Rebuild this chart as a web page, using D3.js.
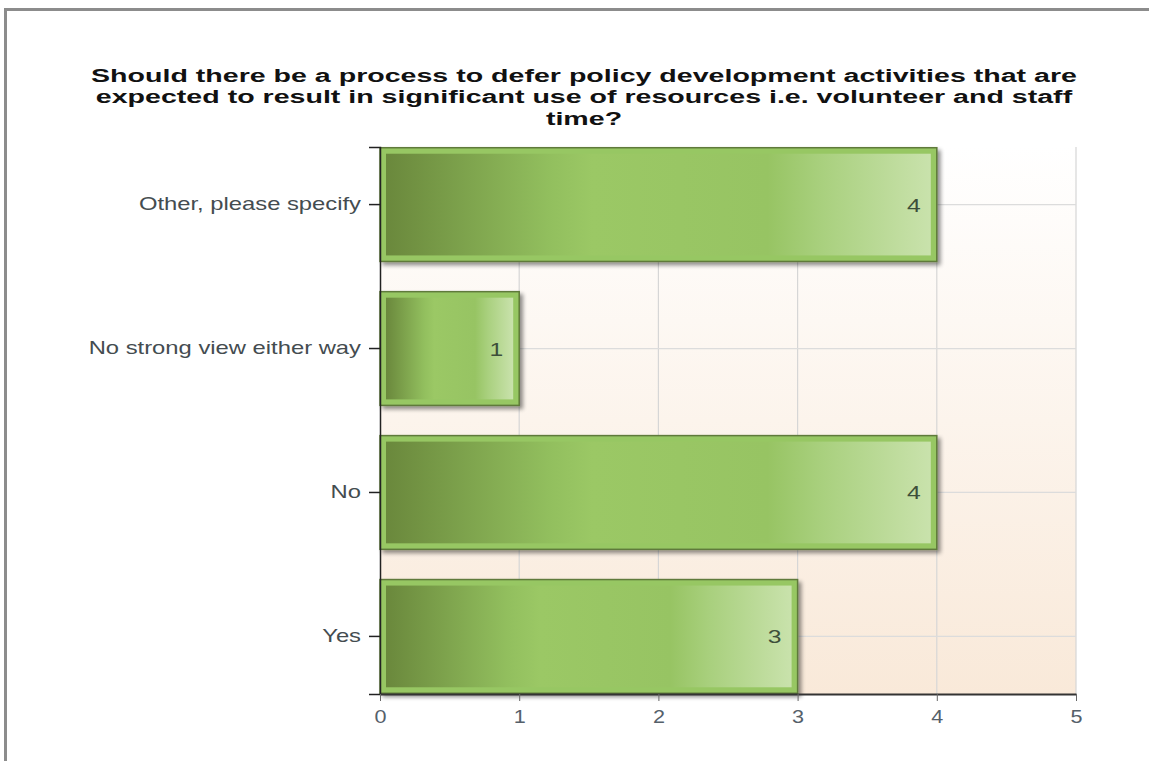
<!DOCTYPE html>
<html>
  <head>
    <meta charset="utf-8" />
    <title>Defer policy development</title>
    <script src="https://d3js.org/d3.v7.min.js"></script>
    <style>
      body { margin: 0; background: #fff; }
      svg { font-family: "Liberation Sans", Arial, sans-serif; }
    </style>
  </head>
  <body>
    <svg id="chart" width="1149" height="761"></svg>
    <script>
      var titleLines = [
        "Should there be a process to defer policy development activities that are",
        "expected to result in significant use of resources i.e. volunteer and staff",
        "time?"
      ];
      var categories = ["Other, please specify", "No strong view either way", "No", "Yes"];
      var counts = [4, 1, 4, 3];
      var xTicks = [0, 1, 2, 3, 4, 5];

      var svg = d3.select("#chart");

      // the source image is stretched sideways, so text gets a wider aspect
      function widen(stretch) {
        return function (sel) {
          sel.each(function () {
            var t = d3.select(this);
            var tx = +t.attr("x") || 0;
            t.attr("transform", "translate(" + tx + ",0) scale(" + stretch + ",1) translate(" + (-tx) + ",0)");
          });
        };
      }

      // outer frame (only top and left edges are in view)
      svg.append("rect")
        .attr("x", 5.5).attr("y", 9.5)
        .attr("width", 1200).attr("height", 800)
        .attr("fill", "none")
        .attr("stroke", "#8c8c8c")
        .attr("stroke-width", 3);

      svg.append("g").selectAll("text")
        .data(titleLines)
        .enter().append("text")
        .attr("x", 584)
        .attr("y", function (d, i) { return 82 + i * 21.3; })
        .attr("text-anchor", "middle")
        .attr("font-size", 18.5)
        .attr("font-weight", "bold")
        .attr("fill", "#111")
        .text(function (d) { return d; })
        .call(widen(1.545));

      var plotL = 380, plotR = 1076, plotT = 147, plotB = 694;

      var x = d3.scaleLinear().domain([0, 5]).range([plotL, plotR]);
      var y = d3.scaleBand().domain(categories).range([plotT, plotB]).paddingInner(0.21).paddingOuter(0.005);

      var defs = svg.append("defs");

      var bg = defs.append("linearGradient").attr("id", "bgGrad")
        .attr("x1", 0).attr("y1", 0).attr("x2", 0).attr("y2", 1);
      bg.append("stop").attr("offset", "0%").attr("stop-color", "#ffffff");
      bg.append("stop").attr("offset", "100%").attr("stop-color", "#f9e9d9");

      var barGrad = defs.append("linearGradient").attr("id", "barGrad")
        .attr("x1", 0).attr("y1", 0).attr("x2", 1).attr("y2", 0);
      barGrad.append("stop").attr("offset", "0%").attr("stop-color", "#6a883c");
      barGrad.append("stop").attr("offset", "30%").attr("stop-color", "#92bf5e");
      barGrad.append("stop").attr("offset", "38%").attr("stop-color", "#9bc865");
      barGrad.append("stop").attr("offset", "70%").attr("stop-color", "#97c463");
      barGrad.append("stop").attr("offset", "80%").attr("stop-color", "#a9d07e");
      barGrad.append("stop").attr("offset", "100%").attr("stop-color", "#c9e2ac");

      var shadow = defs.append("filter").attr("id", "shadow")
        .attr("x", "-5%").attr("y", "-5%").attr("width", "115%").attr("height", "120%");
      shadow.append("feGaussianBlur").attr("in", "SourceAlpha").attr("stdDeviation", 2);
      shadow.append("feOffset").attr("dx", 3).attr("dy", 3).attr("result", "off");
      shadow.append("feComponentTransfer").append("feFuncA").attr("type", "linear").attr("slope", 0.45);
      var merge = shadow.append("feMerge");
      merge.append("feMergeNode");
      merge.append("feMergeNode").attr("in", "SourceGraphic");

      svg.append("rect")
        .attr("x", plotL).attr("y", plotT)
        .attr("width", plotR - plotL).attr("height", plotB - plotT)
        .attr("fill", "url(#bgGrad)");

      // gridlines
      svg.append("g").selectAll("line")
        .data(xTicks.slice(1))
        .enter().append("line")
        .attr("x1", function (d) { return x(d); })
        .attr("x2", function (d) { return x(d); })
        .attr("y1", plotT).attr("y2", plotB)
        .attr("stroke", "#d6d6d6").attr("stroke-width", 1.2);

      svg.append("g").selectAll("line")
        .data(categories)
        .enter().append("line")
        .attr("x1", plotL).attr("x2", plotR)
        .attr("y1", function (d) { return y(d) + y.bandwidth() / 2; })
        .attr("y2", function (d) { return y(d) + y.bandwidth() / 2; })
        .attr("stroke", "#dcdcdc").attr("stroke-width", 1.2);

      // bars
      var bars = svg.append("g").selectAll("g")
        .data(counts)
        .enter().append("g");

      bars.append("rect")
        .attr("x", x(0))
        .attr("y", function (d, i) { return y(categories[i]); })
        .attr("width", function (d) { return x(d) - x(0); })
        .attr("height", y.bandwidth())
        .attr("fill", "#97c763")
        .attr("stroke", "#5f7a3a")
        .attr("stroke-width", 1.5)
        .attr("filter", "url(#shadow)");

      bars.append("rect")
        .attr("x", x(0) + 6)
        .attr("y", function (d, i) { return y(categories[i]) + 6; })
        .attr("width", function (d) { return x(d) - x(0) - 12; })
        .attr("height", y.bandwidth() - 12)
        .attr("fill", "url(#barGrad)");

      bars.append("text")
        .attr("x", function (d) { return x(d) - 16; })
        .attr("y", function (d, i) { return y(categories[i]) + y.bandwidth() / 2 + 7; })
        .attr("text-anchor", "end")
        .attr("font-size", 19)
        .attr("fill", "#3d4f3a")
        .text(function (d) { return d; })
        .call(widen(1.3));

      // axes
      var yAxis = svg.append("g")
        .attr("transform", "translate(" + plotL + ",0)")
        .call(d3.axisLeft(y).tickSize(11).tickPadding(8));
      yAxis.select(".domain").attr("stroke", "#222").attr("stroke-width", 1.5);
      yAxis.selectAll(".tick line").attr("stroke", "#222").attr("stroke-width", 1.5);
      yAxis.selectAll(".tick text").attr("font-size", 17.5).attr("fill", "#444c50")
        .attr("font-family", "Liberation Sans, Arial, sans-serif")
        .call(widen(1.36));

      var xAxis = svg.append("g")
        .attr("transform", "translate(0," + plotB + ")")
        .call(d3.axisBottom(x).tickValues(xTicks).tickFormat(d3.format("d")).tickSize(7).tickSizeOuter(0).tickPadding(9));
      xAxis.select(".domain").attr("stroke", "#333").attr("stroke-width", 2);
      xAxis.selectAll(".tick line").attr("stroke", "#666");
      xAxis.selectAll(".tick text").attr("font-size", 18).attr("fill", "#55606a")
        .attr("font-family", "Liberation Sans, Arial, sans-serif")
        .call(widen(1.2));
    </script>
  </body>
</html>
